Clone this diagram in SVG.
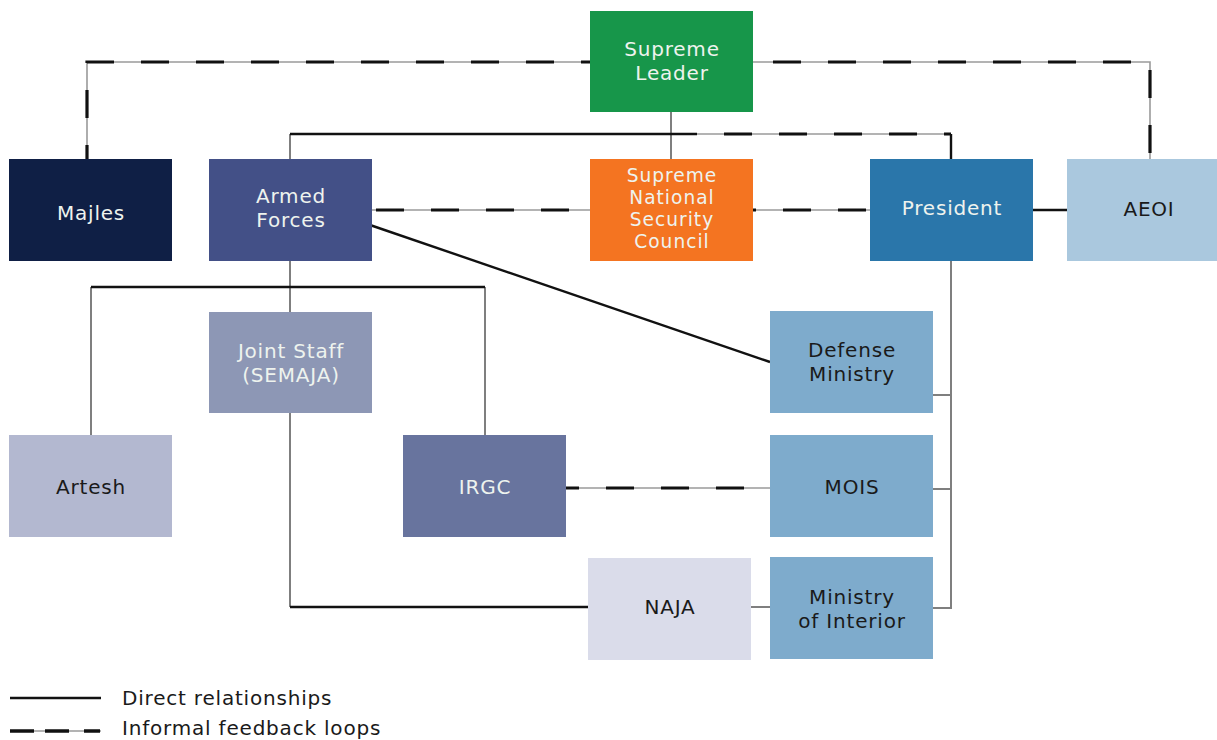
<svg xmlns="http://www.w3.org/2000/svg" width="1217" height="740" viewBox="0 0 1217 740">
<style>
text{font-family:"DejaVu Sans","Liberation Sans",sans-serif;font-size:20px;letter-spacing:0.8px;text-anchor:middle}
.w{fill:#eef3ee}
.d{fill:#1a1a1a}
.s{font-size:18.6px;letter-spacing:1px}
.solid{stroke:#111;stroke-width:2.4;fill:none}
.gray{stroke:#7f7f7f;stroke-width:2;fill:none}
.base{stroke:#9a9a9a;stroke-width:1.6;fill:none}
.dash{stroke:#111;stroke-width:3.2;fill:none;stroke-dasharray:28 27}
</style>
<rect width="1217" height="740" fill="#fff"/>
<g id="connectors">
<path class="base" d="M87,159 V62 H590"/>
<path class="dash" d="M87,159 V62 H590" stroke-dashoffset="14"/>
<path class="base" d="M753,62 H1150 V159"/>
<path class="dash" d="M753,62 H1150 V159" stroke-dashoffset="-20"/>
<path class="gray" d="M671,112 V159"/>
<path class="gray" d="M290,159 V134"/>
<path class="solid" d="M290,134 H697"/>
<path class="base" d="M697,134 H951"/>
<path class="dash" d="M697,134 H951" stroke-dashoffset="-27"/>
<path class="solid" d="M951,134 V159"/>
<path class="base" d="M372,210 H590"/>
<path class="dash" d="M372,210 H590" stroke-dashoffset="-4"/>
<path class="base" d="M753,210 H870"/>
<path class="dash" d="M753,210 H870" stroke-dashoffset="-30"/>
<path class="solid" d="M1033,210 H1067"/>
<path class="solid" d="M370,225 L770,362"/>
<path class="gray" d="M290,261 V312"/>
<path class="gray" d="M91,287 V435"/>
<path class="gray" d="M485,287 V435"/>
<path class="solid" d="M91,287 H485"/>
<path class="gray" d="M290,413 V607"/>
<path class="solid" d="M290,607 H588"/>
<path class="gray" d="M751,607 H770"/>
<path class="base" d="M566,488 H770"/>
<path class="dash" d="M566,488 H770" stroke-dashoffset="15"/>
<path class="gray" d="M951,261 V608 H933 M933,395 H951 M933,489 H951"/>
</g>
<g id="supreme-leader"><rect x="590" y="11" width="163" height="101" fill="#17964a"/><text class="w" x="672" y="56">Supreme</text><text class="w" x="672" y="80">Leader</text></g>
<g id="majles"><rect x="9" y="159" width="163" height="102" fill="#0f1f45"/><text class="w" x="91" y="220">Majles</text></g>
<g id="armed-forces"><rect x="209" y="159" width="163" height="102" fill="#435087"/><text class="w" x="291" y="203">Armed</text><text class="w" x="291" y="227">Forces</text></g>
<g id="snsc"><rect x="590" y="159" width="163" height="102" fill="#f47421"/><text class="w s" x="672" y="182">Supreme</text><text class="w s" x="672" y="204">National</text><text class="w s" x="672" y="226">Security</text><text class="w s" x="672" y="248">Council</text></g>
<g id="president"><rect x="870" y="159" width="163" height="102" fill="#2a76aa"/><text class="w" x="952" y="215">President</text></g>
<g id="aeoi"><rect x="1067" y="159" width="150" height="102" fill="#aac8de"/><text class="d" x="1149" y="216">AEOI</text></g>
<g id="joint-staff"><rect x="209" y="312" width="163" height="101" fill="#8d97b5"/><text class="w" x="291" y="358">Joint Staff</text><text class="w" x="291" y="382">(SEMAJA)</text></g>
<g id="defense-ministry"><rect x="770" y="311" width="163" height="102" fill="#7eabcc"/><text class="d" x="852" y="357">Defense</text><text class="d" x="852" y="381">Ministry</text></g>
<g id="artesh"><rect x="9" y="435" width="163" height="102" fill="#b3b8d0"/><text class="d" x="91" y="494">Artesh</text></g>
<g id="irgc"><rect x="403" y="435" width="163" height="102" fill="#68749e"/><text class="w" x="485" y="494">IRGC</text></g>
<g id="mois"><rect x="770" y="435" width="163" height="102" fill="#7eabcc"/><text class="d" x="852" y="494">MOIS</text></g>
<g id="naja"><rect x="588" y="558" width="163" height="102" fill="#dadcea"/><text class="d" x="670" y="614">NAJA</text></g>
<g id="ministry-of-interior"><rect x="770" y="557" width="163" height="102" fill="#7eabcc"/><text class="d" x="852" y="604">Ministry</text><text class="d" x="852" y="628">of Interior</text></g>
<g id="legend">
<path class="solid" d="M10,698 H101" stroke-width="2.5"/>
<path class="base" d="M10,731 H101"/>
<path d="M10,731 H101" stroke="#111" stroke-width="3.5" stroke-dasharray="24 11 24 15 16"/>
<text class="d" x="122" y="705" style="text-anchor:start">Direct relationships</text>
<text class="d" x="122" y="735" style="text-anchor:start">Informal feedback loops</text>
</g>
</svg>
